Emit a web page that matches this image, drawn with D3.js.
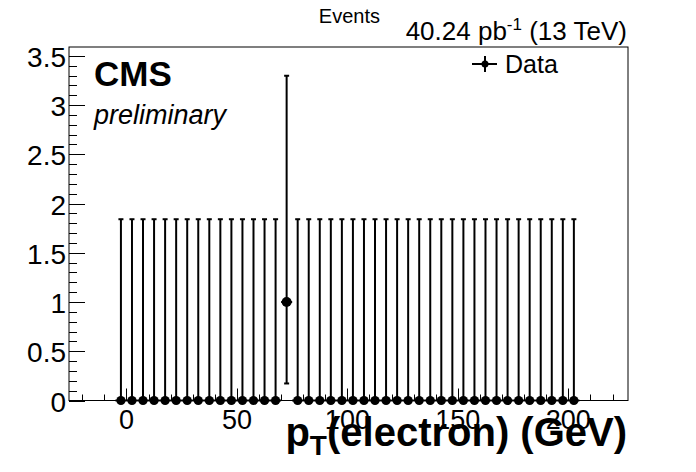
<!DOCTYPE html>
<html><head><meta charset="utf-8">
<script src="https://cdn.jsdelivr.net/npm/d3@7"></script>
<style>body{margin:0;background:#fff}svg{display:block}text{font-family:"Liberation Sans",Arial,sans-serif}</style>
</head><body>
<svg id="c" width="696" height="472"></svg>
<script>
// data
const binCenters = [-2.5,2.5,7.5,12.5,17.5,22.5,27.5,32.5,37.5,42.5,47.5,52.5,57.5,62.5,67.5,72.5,77.5,82.5,87.5,92.5,97.5,102.5,107.5,112.5,117.5,122.5,127.5,132.5,137.5,142.5,147.5,152.5,157.5,162.5,167.5,172.5,177.5,182.5,187.5,192.5,197.5,202.5];
const counts = [0,0,0,0,0,0,0,0,0,0,0,0,0,0,0,1,0,0,0,0,0,0,0,0,0,0,0,0,0,0,0,0,0,0,0,0,0,0,0,0,0,0];
const errUp = counts.map(c => c === 0 ? 1.841 : 2.298);
const errLow = counts.map(c => c === 0 ? 0 : 0.827);
const binHalfWidth = 2.5;
const xTicks = [0,50,100,150,200];
const yTicks = [0,0.5,1,1.5,2,2.5,3,3.5];
const yTickLabels = ["0","0.5","1","1.5","2","2.5","3","3.5"];

const svg = d3.select("#c");
const L = 69, R = 628, T = 47, B = 400.5;
const x = d3.scaleLinear().domain([-26, 227]).range([L, R]);
const y = d3.scaleLinear().domain([0, 3.59]).range([B, T]);

// frame
svg.append("rect").attr("x", L).attr("y", T).attr("width", R - L).attr("height", B - T)
  .attr("fill", "none").attr("stroke", "#000").attr("stroke-width", 1);

// y axis ticks
const yMinor = d3.range(0, 3.59, 0.1);
svg.selectAll(".ymin").data(yMinor).enter().append("line")
  .attr("x1", L).attr("x2", L + 8).attr("y1", d => Math.round(y(d)) + 0.5).attr("y2", d => Math.round(y(d)) + 0.5)
  .attr("stroke", "#000");
svg.selectAll(".ymaj").data(yTicks).enter().append("line")
  .attr("x1", L).attr("x2", L + 16).attr("y1", d => Math.round(y(d)) + 0.5).attr("y2", d => Math.round(y(d)) + 0.5)
  .attr("stroke", "#000");
svg.selectAll(".ylab").data(yTicks).enter().append("text")
  .attr("x", L - 3).attr("y", d => y(d) + 11).attr("text-anchor", "end")
  .attr("font-size", 28).text((d, i) => yTickLabels[i]);

// x axis ticks
const xMinor = d3.range(-20, 221, 10);
svg.selectAll(".xmin").data(xMinor).enter().append("line")
  .attr("x1", d => Math.round(x(d)) + 0.5).attr("x2", d => Math.round(x(d)) + 0.5).attr("y1", B).attr("y2", B - 6)
  .attr("stroke", "#000");
svg.selectAll(".xmaj").data(xTicks).enter().append("line")
  .attr("x1", d => Math.round(x(d)) + 0.5).attr("x2", d => Math.round(x(d)) + 0.5).attr("y1", B).attr("y2", B - 12)
  .attr("stroke", "#000");
svg.selectAll(".xlab").data(xTicks).enter().append("text")
  .attr("x", d => x(d)).attr("y", B + 28).attr("text-anchor", "middle")
  .attr("font-size", 27).text(d => d);

// error bars
const g = svg.append("g");
binCenters.forEach((c, i) => {
  const cx = x(c), v = counts[i];
  const yTop = y(v + errUp[i]), yBot = y(v - errLow[i]);
  g.append("line").attr("x1", cx).attr("x2", cx).attr("y1", yTop).attr("y2", yBot).attr("stroke", "#000").attr("stroke-width", 2);
  g.append("line").attr("x1", cx - 2.5).attr("x2", cx + 2.5).attr("y1", yTop).attr("y2", yTop).attr("stroke", "#000").attr("stroke-width", 2);
  if (errLow[i] > 0) {
    g.append("line").attr("x1", cx - 2.5).attr("x2", cx + 2.5).attr("y1", yBot).attr("y2", yBot).attr("stroke", "#000").attr("stroke-width", 2);
  }
  g.append("line").attr("x1", x(c - binHalfWidth)).attr("x2", x(c + binHalfWidth)).attr("y1", y(v)).attr("y2", y(v)).attr("stroke", "#000").attr("stroke-width", 2);
  g.append("circle").attr("cx", cx).attr("cy", y(v)).attr("r", v > 0 ? 5 : 4.6).attr("fill", "#000");
});

// axis title
const xt = svg.append("text").attr("x", R - 1).attr("y", 446).attr("text-anchor", "end")
  .attr("font-size", 40).attr("font-weight", "bold");
xt.append("tspan").text("p");
xt.append("tspan").attr("dy", 9).attr("font-size", 28).text("T");
xt.append("tspan").attr("dy", -9).text("(electron) (GeV)");

// y title
svg.append("text").attr("x", 380).attr("y", 23).attr("text-anchor", "end").attr("font-size", 20).text("Events");

// lumi
const lt = svg.append("text").attr("x", R - 1).attr("y", 40).attr("text-anchor", "end").attr("font-size", 26);
lt.append("tspan").text("40.24 pb");
lt.append("tspan").attr("dy", -10).attr("font-size", 17).text("-1");
lt.append("tspan").attr("dy", 10).text(" (13 TeV)");

// CMS
svg.append("text").attr("x", 94).attr("y", 86).attr("font-size", 35).attr("font-weight", "bold").text("CMS");
svg.append("text").attr("x", 94).attr("y", 124).attr("font-size", 27).attr("font-style", "italic").text("preliminary");

// legend
const lx = 485, ly = 64;
svg.append("line").attr("x1", lx - 13).attr("x2", lx + 12).attr("y1", ly).attr("y2", ly).attr("stroke", "#000").attr("stroke-width", 2);
svg.append("line").attr("x1", lx).attr("x2", lx).attr("y1", ly - 8).attr("y2", ly + 8).attr("stroke", "#000").attr("stroke-width", 2);
svg.append("circle").attr("cx", lx).attr("cy", ly).attr("r", 3.5).attr("fill", "#000");
svg.append("text").attr("x", 505).attr("y", 73).attr("font-size", 25).text("Data");
</script>
</body></html>
